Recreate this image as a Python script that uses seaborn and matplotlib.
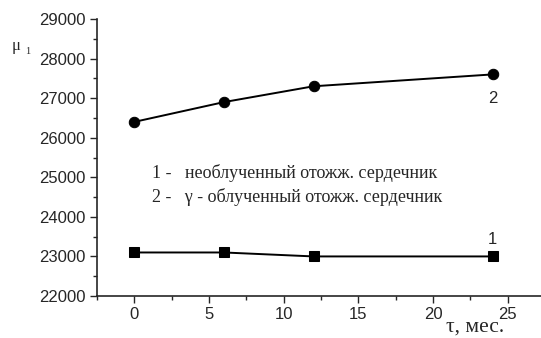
import matplotlib
matplotlib.use("Agg")
import matplotlib.pyplot as plt
from matplotlib.ticker import MultipleLocator
import seaborn as sns
import pandas as pd

months = [0, 6, 12, 24]
mu_unirradiated = [23100, 23100, 23000, 23000]   # curve 1
mu_irradiated = [26400, 26900, 27300, 27600]     # curve 2

sns.set_style("ticks")
plt.rcParams['font.family'] = ['Liberation Sans', 'DejaVu Sans']

df = pd.DataFrame({
    "t": months * 2,
    "mu": mu_unirradiated + mu_irradiated,
    "curve": ["1"] * 4 + ["2"] * 4,
})

W, H = 541, 338
fig = plt.figure(figsize=(W / 100, H / 100), dpi=100)
ax = fig.add_axes([97 / W, (H - 296) / H, (545 - 97) / W, (296 - 19) / H])

sns.lineplot(data=df, x="t", y="mu", hue="curve", style="curve",
             palette={"1": "black", "2": "black"},
             markers={"1": "s", "2": "o"}, dashes=False,
             markersize=7.5, linewidth=1.4, markeredgecolor="black",
             legend=False, ax=ax)

ax.set_xlim(-2.5, 27.5)
ax.set_ylim(22000, 29000)
ax.xaxis.set_major_locator(MultipleLocator(5))
ax.xaxis.set_minor_locator(MultipleLocator(2.5))
ax.yaxis.set_major_locator(MultipleLocator(1000))
ax.yaxis.set_minor_locator(MultipleLocator(500))
ax.tick_params(which="major", direction="out", length=5, width=1, labelsize=12, pad=3)
ax.tick_params(which="minor", direction="out", length=3, width=1)
for s in ["top", "right"]:
    ax.spines[s].set_visible(False)
for s in ["left", "bottom"]:
    ax.spines[s].set_linewidth(1.2)
ax.set_xlabel("")
ax.set_ylabel("")

fig.text(12 / W, 1 - 46 / H, "μ", fontsize=12, family="Liberation Serif", va="center", ha="left")
fig.text(25 / W, 1 - 52 / H, "1", fontsize=7.5, family="Liberation Serif", va="center", ha="left")
fig.text(446 / W, 1 - 327 / H, "τ, мес.", fontsize=15.5, family="Liberation Serif", va="center", ha="left")

ax.text(1.2, 25110, "1 -   необлученный отожж. сердечник", fontsize=13,
        family="Liberation Serif", va="center", ha="left")
ax.text(1.2, 24500, "2 -   γ - облученный отожж. сердечник", fontsize=13,
        family="Liberation Serif", va="center", ha="left")
ax.text(24, 27000, "2", fontsize=12, va="center", ha="center")
ax.text(24, 23420, "1", fontsize=12, va="center", ha="center")

fig.savefig("out.png", dpi=100)
